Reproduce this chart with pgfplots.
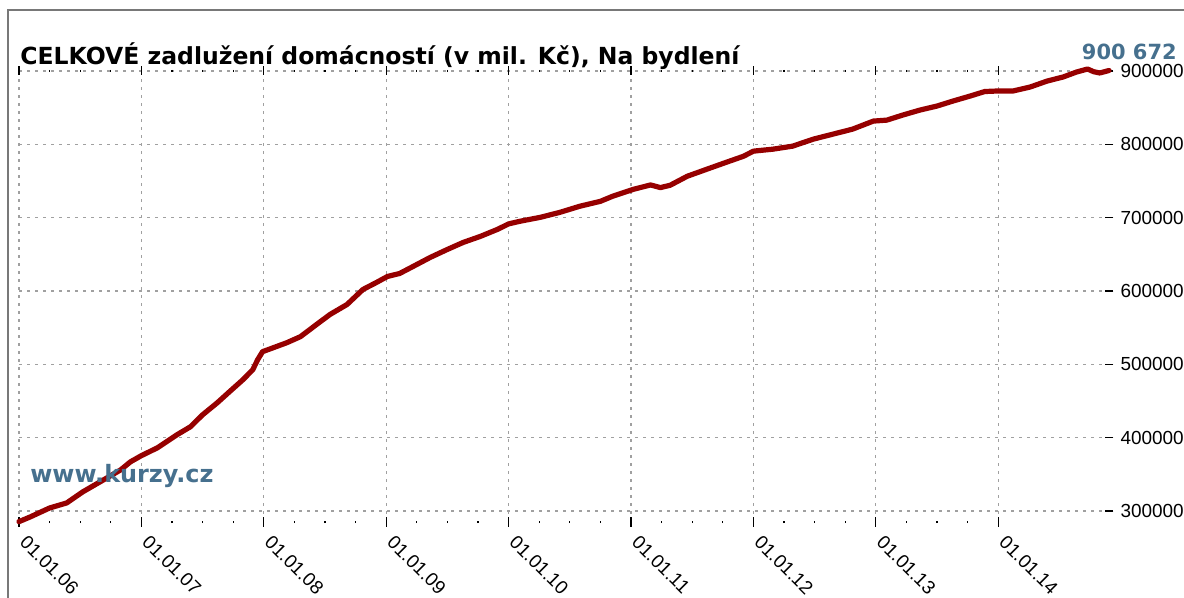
\documentclass[border=0pt]{standalone}
\usepackage{pgfplots}
\pgfplotsset{compat=1.18}
\usepackage{fontspec}
\setmainfont{Liberation Sans}
\newfontfamily\dejavu{DejaVu Sans}
\definecolor{linered}{RGB}{150,0,0}
\definecolor{wmblue}{RGB}{70,112,142}
\definecolor{gridgray}{RGB}{160,160,160}
\definecolor{framegray}{RGB}{120,120,120}
\begin{document}
\begin{tikzpicture}
\begin{axis}[
  at={(9.5bp,38bp)}, anchor=south west,
  scale only axis, width=545bp, height=225.5bp,
  xmin=2006, xmax=2014.905,
  ymin=285000, ymax=900000,
  clip=false,
  scaled y ticks=false, scaled x ticks=false,
  axis line style={draw=none},
  xtick={2006,2007,2008,2009,2010,2011,2012,2013,2014},
  xticklabels={01.01.06,01.01.07,01.01.08,01.01.09,01.01.10,01.01.11,01.01.12,01.01.13,01.01.14},
  minor x tick num=3,
  xtick pos=both,
  ytick={300000,400000,500000,600000,700000,800000,900000},
  yticklabels={300000,400000,500000,600000,700000,800000,900000},
  ytick pos=right,
  yticklabel pos=right,
  tick align=center,
  major tick length=4.5bp,
  minor tick length=1.2bp,
  every tick/.style={black, line width=0.6bp},
  xmajorgrids, ymajorgrids,
  grid style={gridgray, line width=0.6bp, dash pattern=on 1.5bp off 2.5bp},
  tick label style={font=\fontsize{9.5}{11}\selectfont},
  /pgf/number format/assume math mode=true,
  xticklabel style={rotate=-45, anchor=north west, xshift=2.5bp, yshift=4bp},
  yticklabel style={anchor=west, xshift=0bp},
]
\addplot[linered, line width=2.6bp, line join=round, line cap=round] coordinates {
(2006.00,285500) (2006.09,291800) (2006.25,304100) (2006.39,311000)
(2006.52,326000) (2006.69,342400) (2006.83,356000) (2006.91,367000)
(2007.00,375500) (2007.13,386100) (2007.29,403900) (2007.40,414800)
(2007.50,431200) (2007.62,447600) (2007.72,462700) (2007.83,479100)
(2007.91,492700) (2007.95,506400) (2007.99,517300) (2008.08,522800)
(2008.19,529600) (2008.30,537800) (2008.43,554200) (2008.54,567900)
(2008.68,581600) (2008.81,602100) (2008.92,611600) (2009.01,619800)
(2009.11,623900) (2009.22,633500) (2009.36,645800) (2009.50,656700)
(2009.63,666300) (2009.77,674500) (2009.91,684100) (2010.00,691500)
(2010.09,695000) (2010.26,700500) (2010.42,707300) (2010.58,715500)
(2010.75,722300) (2010.85,729200) (2011.02,738700) (2011.16,744600)
(2011.24,741000) (2011.32,744200) (2011.46,756500) (2011.62,766100)
(2011.78,775600) (2011.92,783800) (2012.00,790700) (2012.16,793400)
(2012.32,797500) (2012.49,807100) (2012.65,813900) (2012.81,820700)
(2012.98,831700) (2013.09,833000) (2013.22,839900) (2013.36,846700)
(2013.50,852200) (2013.63,859000) (2013.77,865800) (2013.89,872000)
(2013.99,872700) (2014.12,872700) (2014.26,878100) (2014.40,886300)
(2014.53,891800) (2014.64,898600) (2014.73,902700) (2014.78,899000)
(2014.83,897300) (2014.905,900672)
};
\end{axis}
\draw[framegray, line width=1bp] (4bp,0bp) -- (4bp,294bp) -- (592bp,294bp);
\node[anchor=base west, inner sep=0pt, font=\dejavu\bfseries\fontsize{11.8}{13}\selectfont] at (10bp,266.5bp) {CELKOVÉ zadlužení domácností (v mil. Kč), Na bydlení};
\node[anchor=base east, inner sep=0pt, text=wmblue, font=\dejavu\bfseries\fontsize{10.5}{12}\selectfont] at (588.5bp,269bp) {900 672};
\node[anchor=base west, inner sep=0pt, text=wmblue, font=\dejavu\bfseries\fontsize{12}{14}\selectfont] at (15bp,57.5bp) {www.kurzy.cz};
\pgfresetboundingbox
\useasboundingbox (0,0) rectangle (592bp,299bp);
\end{tikzpicture}
\end{document}
